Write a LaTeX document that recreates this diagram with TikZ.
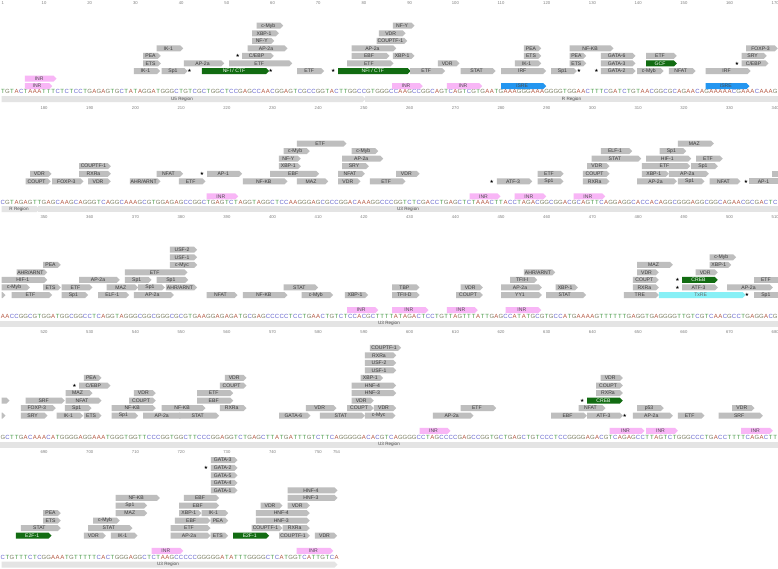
\documentclass[tikz,border=0pt]{standalone}
\usepackage{fontspec}
\setmainfont{Liberation Sans}
\newfontfamily\dvs{DejaVu Sans}
\usetikzlibrary{shapes.symbols}
\definecolor{bA}{RGB}{180,86,64}
\definecolor{bC}{RGB}{100,100,205}
\definecolor{bG}{RGB}{125,128,100}
\definecolor{bT}{RGB}{72,155,72}
\definecolor{tagfill}{RGB}{190,190,190}
\definecolor{tfgreen}{RGB}{18,108,18}
\definecolor{inrpink}{RGB}{248,182,246}
\definecolor{isreblue}{RGB}{36,150,240}
\definecolor{txrecyan}{RGB}{135,240,246}
\definecolor{regfill}{RGB}{228,228,228}
\tikzset{
 tagbase/.style={signal, signal to=east, inner sep=0pt, outer sep=0pt, minimum height=6pt, font=\fontsize{5.1}{5.1}\selectfont, text=black!78},
 tg/.style={tagbase, fill=tagfill},
 tgcut/.style={rectangle, inner sep=0pt, outer sep=0pt, minimum height=6pt, fill=tagfill, font=\fontsize{5.1}{5.1}\selectfont, text=black!78},
 grn/.style={tagbase, fill=tfgreen, text=white},
 inr/.style={tagbase, fill=inrpink, text=black!70},
 isre/.style={tagbase, fill=isreblue, text=black!70},
 txre/.style={tagbase, fill=txrecyan, text=black!60},
 base/.style={inner sep=0pt, font=\fontsize{6}{6}\selectfont},
 ruler/.style={inner sep=0pt, font=\fontsize{4.2}{4.2}\selectfont, text=black!50},
 region/.style={signal, signal to=east, inner sep=0pt, minimum height=6pt, fill=regfill, font=\fontsize{4.6}{4.6}\selectfont, text=black!70},
 regcut/.style={rectangle, inner sep=0pt, minimum height=6pt, fill=regfill, font=\fontsize{4.6}{4.6}\selectfont, text=black!70},
 starm/.style={inner sep=0pt, font=\dvs\fontsize{4.8}{4.8}\selectfont},
}
\newcount\tagc
\newcount\seqc
\newcommand\placetag[5]{\node[#1,minimum width={(#3)-(#2)}] (t\the\tagc) at ({((#2)+(#3))/2},{\Lone-((#4)-1)*7.55}) {#5};\global\advance\tagc by 1\relax}
\newcommand\tgA[4]{\placetag{tg}{#1}{#2}{#3}{#4}}
\newcommand\tgC[4]{\placetag{tgcut}{#1}{#2}{#3}{#4}}
\newcommand\tgG[4]{\placetag{grn}{#1}{#2}{#3}{#4}}
\newcommand\tgX[4]{\placetag{txre}{#1}{#2}{#3}{#4}}
\newcommand\tgI[3]{\placetag{inr}{#1}{#2}{-1}{#3}}
\newcommand\tgU[3]{\placetag{inr}{#1}{#2}{0}{#3}}
\newcommand\tgB[3]{\placetag{isre}{#1}{#2}{-1}{#3}}
\newcommand\tgS[2]{\node[starm] (t\the\tagc) at (#1,{\Lone-((#2)-1)*7.55}) {★};\global\advance\tagc by 1\relax}
\newcommand\seqrow[3]{\def\seqid{#1}\def\seqy{#2}\global\seqc=0 \seqloop#3\relax}
\def\seqloop#1{\ifx#1\relax\let\seqnext\relax\else\def\seqnext{\seqput#1\seqloop}\fi\seqnext}
\def\seqput#1{\node[base,text=b#1] (s\seqid-\the\seqc) at ({2.9+4.57*\the\seqc},\seqy) {#1};\global\advance\seqc by 1\relax}
\begin{document}
\begin{tikzpicture}[x=1pt,y=-1pt]
\useasboundingbox (0,0) rectangle (778,568);
\fill[white] (0,0) rectangle (778,568);
% rulers
\node[ruler] (r1) at (2.9,3) {1};
\foreach \n in {10,20,...,170} \node[ruler] (r\n) at ({2.9+(\n-1)*4.57},3) {\n};
\foreach \n in {180,190,...,340} \node[ruler] (r\n) at ({2.9+(\n-171)*4.57},107.7) {\n};
\foreach \n in {350,360,...,510} \node[ruler] (r\n) at ({2.9+(\n-341)*4.57},217) {\n};
\foreach \n in {520,530,...,680} \node[ruler] (r\n) at ({2.9+(\n-511)*4.57},332) {\n};
\foreach \n in {690,700,...,750} \node[ruler] (r\n) at ({2.9+(\n-681)*4.57},451.7) {\n};
\node[ruler] (r754) at ({2.9+73*4.57},451.7) {754};
% regions
\node[region, minimum width=364] (u5) at (182,99) {U5 Region};
\node[regcut, minimum width=413] (ra) at (571.5,99) {R Region};
\node[region, minimum width=38] (rb) at (19,209) {R Region};
\node[regcut, minimum width=740] (ua) at (408,209) {U3 Region};
\node[regcut, minimum width=778] (ub) at (389,323.7) {U3 Region};
\node[regcut, minimum width=778] (uc) at (389,444.5) {U3 Region};
\node[region, minimum width=336] (ud) at (168,564.7) {U3 Region};
% sequences
\seqrow{a}{91.5}{TGTACTAAATTTCTCTCCTGAGAGTGCTATAGGATGGGCTGTCGCTGGCTCCGAGCCAACGGAGTCGCCGGTACTTGGCCGTGGGCCAAGCCGGCAGTCAGTCGTGAATGAAAGGGAAAGGGGTGGAACTTTCGATCTGTAACGGCGCAGAACAGAAAAACGAAACAAAG}
\seqrow{b}{202}{CGTAGAGTTGAGCAAGCAGGGTCAGGCAAAGCGTGGAGAGCCGGCTGAGTCTAGGTAGGCTCCAAGGGAGCGCCGGACAAAGGCCCGGTCTCGACCTGAGCTCTAAACTTACCTAGACGGCGGACGCAGTTCAGGAGGCACCACAGGCGGGAGGCGGCAGAACGCGACTC}
\seqrow{c}{316.7}{AACCGGCGTGGATGGCGGCCTCAGGTAGGGCGGCGGGCGCGTGAAGGAGAGATGCGAGCCCCCTCCTGAACTGTCTCCACGCTTTTATAGACTCCTGTTAGTTTATTGAGCCATATGCGTGCCATGAAAAGTTTTTTGAGGTGAGGGGTTGTCGTCAACGCCTGAGGACG}
\seqrow{d}{437.5}{GCTTGACAAACATGGGGAGGAAATGGGTGGTTCCCGGTGGCTTCCCGGAGGTCTGAGCTTATGATTTGTCTTCAGGGGGACACGTCAGGGGCCTAGCCCCGAGCCGGTGCTGAGCTGTCCCTCCGGGGAGACGTCAGAGCCTTAGTCTGGGCCCTGACCTTTTCAGACTT}
\seqrow{e}{557.7}{CTGTTTCTCGGAAATGTTTTTCACTGGGAGGCTCTAAGCCCCCGGGGGATATTTGGGGCTCATGGTCATTGTCA}
% ---------- Row 1
\def\Lone{71}
\tgU{23.3}{55}{INR}
\tgI{23.3}{50.7}{INR}
\tgA{132.3}{158.7}{1}{IK-1}
\tgA{141.7}{159.3}{2}{ETS}
\tgA{141.7}{159.3}{3}{PEA}
\tgA{155}{181.7}{4}{IK-1}
\tgA{160}{186}{1}{Sp1}
\tgS{189.5}{1}
\tgA{182.3}{222.7}{2}{AP-2a}
\tgG{200.3}{267.7}{1}{NFI / CTF}
\tgS{270.7}{1}
\tgA{227.7}{290.7}{2}{ETF}
\tgS{237.8}{3}
\tgA{240.7}{272.3}{3}{C/EBP}
\tgA{246}{286}{4}{AP-2a}
\tgA{250.7}{272.7}{5}{NF-Y}
\tgA{250.7}{277.3}{6}{XBP-1}
\tgA{255}{281.7}{7}{c-Myb}
\tgA{295.7}{322.7}{1}{ETF}
\tgS{333.3}{1}
\tgG{336.7}{409}{1}{NFI / CTF}
\tgA{345.7}{392}{2}{ETF}
\tgA{350}{388}{3}{EBF}
\tgA{391.3}{413}{3}{XBP-1}
\tgA{350}{394.7}{4}{AP-2a}
\tgA{375}{405.7}{5}{COUPTF-1}
\tgA{377.3}{404}{6}{VDR}
\tgA{391.3}{413}{7}{NF-Y}
\tgA{408.7}{443.7}{1}{ETF}
\tgA{436.3}{458}{2}{VDR}
\tgA{459}{494}{1}{STAT}
\tgA{499.7}{544.7}{1}{IRF}
\tgA{513.3}{539.7}{2}{IK-1}
\tgA{522.3}{539.7}{3}{ETS}
\tgA{522.3}{539.7}{4}{PEA}
\tgB{499.7}{544.7}{iSRE}
\tgI{390.7}{421.3}{INR}
\tgI{445.3}{480.7}{INR}
\tgA{549.7}{575.3}{1}{Sp1}
\tgS{579}{1}
\tgA{568}{612}{4}{NF-KB}
\tgA{568}{584.7}{3}{PEA}
\tgA{568}{584.7}{2}{ETS}
\tgS{596.5}{1}
\tgA{599.3}{634}{1}{GATA-2}
\tgA{599.3}{634}{2}{GATA-3}
\tgA{599.3}{634}{3}{GATA-6}
\tgA{635.7}{662}{1}{c-Myb}
\tgA{644.7}{675.3}{3}{ETF}
\tgG{644.7}{675.3}{2}{GCF}
\tgA{667.3}{694}{1}{NFAT}
\tgA{704}{749}{1}{IRF}
\tgB{704}{748}{iSRE}
\tgS{737}{2}
\tgA{740}{767}{2}{C/EBP}
\tgA{740}{765.3}{3}{SRY}
\tgA{744.7}{776.3}{4}{FOXP-3}
% ---------- Row 2
\def\Lone{181.3}
\tgA{24}{49.3}{1}{COUPT}
\tgA{28.7}{50}{2}{VDR}
\tgA{50.7}{82}{1}{FOXP-3}
\tgA{77.7}{109.3}{2}{RXRa}
\tgA{77.7}{109.3}{3}{COUPTF-1}
\tgA{86.7}{109.3}{1}{VDR}
\tgA{128.3}{159}{1}{AHR/ARNT}
\tgA{155}{181.7}{2}{NFAT}
\tgA{177.3}{204}{1}{ETF}
\tgS{202}{2}
\tgA{205.7}{240.7}{2}{AP-1}
\tgI{205}{236.7}{INR}
\tgA{241.3}{286}{1}{NF-KB}
\tgA{268.7}{317.7}{2}{EBF}
\tgA{277.3}{299.3}{3}{XBP-1}
\tgA{277.3}{299.3}{4}{NF-Y}
\tgA{282}{308.3}{5}{c-Myb}
\tgA{295.3}{345}{6}{ETF}
\tgA{295.3}{326.7}{1}{MAZ}
\tgA{336.7}{359}{1}{VDR}
\tgA{336.7}{363.3}{2}{NFAT}
\tgA{340.7}{367.3}{3}{SRY}
\tgA{340.7}{381.7}{4}{AP-2a}
\tgA{350}{376.7}{5}{c-Myb}
\tgA{368.3}{404}{1}{ETF}
\tgA{394.7}{418}{2}{VDR}
\tgS{491.7}{1}
\tgA{495.3}{530.7}{1}{ATF-3}
\tgI{468}{499}{INR}
\tgI{513}{544.7}{INR}
\tgI{572}{603.7}{INR}
\tgA{536}{562}{2}{ETF}
\tgA{536}{562}{1}{Sp1}
\tgA{581.3}{608}{1}{RXRa}
\tgA{581.3}{608}{2}{COUPT}
\tgA{585.7}{608}{3}{VDR}
\tgA{590}{639.7}{4}{STAT}
\tgA{599.3}{630.7}{5}{ELF-1}
\tgA{635.7}{675.3}{1}{AP-2a}
\tgA{640.3}{667.3}{2}{XBP-1}
\tgA{640.3}{688.7}{3}{ETF}
\tgA{644.7}{689.7}{4}{HIF-1}
\tgA{667.3}{707.3}{2}{AP-2a}
\tgA{676.3}{703}{1}{Sp1}
\tgA{689.7}{716.3}{3}{Sp1}
\tgA{658}{684.7}{5}{Sp1}
\tgA{694.7}{721.3}{4}{ETF}
\tgA{676.3}{712.3}{6}{MAZ}
\tgA{708}{739}{1}{NFAT}
\tgS{746}{1}
\tgC{749}{778}{1}{AP-1}
\tgC{772.3}{778}{2}{}
% ---------- Row 3
\def\Lone{295}
\tgA{0}{4}{1}{}
\tgA{10}{50.7}{1}{ETF}
\tgA{0}{28.3}{2}{c-Myb}
\tgA{0}{45.7}{3}{HIF-1}
\tgA{15}{45.7}{4}{AHR/ARNT}
\tgA{41.7}{59.3}{5}{PEA}
\tgA{41.7}{59.3}{2}{ETS}
\tgA{60}{86.7}{1}{Sp1}
\tgA{60}{91}{2}{ETF}
\tgA{77.7}{118.3}{3}{AP-2a}
\tgA{105}{136.7}{2}{MAZ}
\tgA{96.7}{127.7}{1}{ELF-1}
\tgA{123.3}{186}{4}{ETF}
\tgA{123.3}{150}{3}{Sp1}
\tgA{136.7}{163.3}{2}{Sp1}
\tgA{132.3}{172.3}{1}{AP-2a}
\tgA{155}{186.7}{3}{Sp1}
\tgA{164.3}{195.7}{2}{AHR/ARNT}
\tgA{168.3}{195.7}{5}{c-Myc}
\tgA{168.3}{195.7}{6}{USF-1}
\tgA{168.3}{195.7}{7}{USF-2}
\tgA{205}{236}{1}{NFAT}
\tgA{241.3}{286}{1}{NF-KB}
\tgA{282}{316.7}{2}{STAT}
\tgA{300}{331.7}{1}{c-Myb}
\tgA{343.3}{366.7}{1}{XBP-1}
\tgI{345.7}{376.7}{INR}
\tgA{390.7}{418}{2}{TBP}
\tgA{390.7}{418}{1}{TFII-D}
\tgA{459}{481.3}{2}{VDR}
\tgA{454.7}{481.3}{1}{COUPT}
\tgA{499.7}{540.3}{2}{AP-2a}
\tgA{499.7}{540.3}{1}{YY1}
\tgA{508.7}{535.7}{3}{TFII-I}
\tgA{522.3}{553.7}{4}{AHR/ARNT}
\tgA{554}{576.3}{2}{XBP-1}
\tgA{544.7}{584.7}{1}{STAT}
\tgI{390.7}{427}{INR}
\tgI{445.3}{476.3}{INR}
\tgI{504}{539.7}{INR}
\tgA{622.3}{657.3}{1}{TRE}
\tgA{631.3}{657.3}{2}{RXRa}
\tgA{631.3}{657.3}{3}{COUPT}
\tgA{635.7}{657.3}{4}{VDR}
\tgA{635.7}{671.3}{5}{MAZ}
\tgX{657.3}{744}{1}{TxRE}
\tgS{747}{1}
\tgS{677.5}{2}
\tgA{680.7}{716.3}{2}{ATF-3}
\tgS{677.5}{3}
\tgG{680.7}{716.3}{3}{CREB}
\tgA{694}{716.3}{4}{VDR}
\tgA{708}{729.7}{5}{XBP-1}
\tgA{708}{734.7}{6}{c-Myb}
\tgA{725.7}{771.3}{2}{AP-2a}
\tgC{753.7}{778}{1}{Sp1}
\tgC{753.7}{778}{3}{ETF}
% ---------- Row 4
\def\Lone{415.7}
\tgA{0}{8}{3}{}
\tgA{0}{4}{1}{}
\tgA{19.3}{46}{1}{SRY}
\tgA{19.3}{54.3}{2}{FOXP-3}
\tgA{24}{63.3}{3}{SRF}
\tgA{55}{81.7}{1}{IK-1}
\tgA{63.3}{90}{2}{Sp1}
\tgA{64}{100}{3}{NFAT}
\tgA{64}{91}{4}{MAZ}
\tgS{74.5}{5}
\tgA{77.7}{109}{5}{C/EBP}
\tgA{82.3}{100}{6}{PEA}
\tgA{82.3}{100}{1}{ETS}
\tgA{110}{136.7}{1}{Sp1}
\tgA{110}{154.3}{2}{NF-KB}
\tgA{127.7}{154.3}{3}{COUPT}
\tgA{132.3}{154.3}{4}{VDR}
\tgA{141.7}{181.7}{1}{AP-2a}
\tgA{160}{204}{2}{NF-KB}
\tgA{177.7}{217.7}{1}{STAT}
\tgA{195.7}{231.7}{3}{EBF}
\tgA{195.7}{231.7}{4}{ETF}
\tgA{218.3}{245}{2}{RXRa}
\tgA{218.3}{245}{5}{COUPT}
\tgA{223.3}{245}{6}{VDR}
\tgA{277.7}{309}{1}{GATA-6}
\tgA{304.3}{335}{2}{VDR}
\tgA{318.3}{363.3}{1}{STAT}
\tgA{363.3}{394}{1}{c-Myc}
\tgA{345.7}{372.3}{2}{COUPT}
\tgA{372.3}{394.7}{2}{VDR}
\tgA{350}{372.3}{3}{VDR}
\tgA{350}{394.7}{4}{HNF-3}
\tgA{350}{394.7}{5}{HNF-4}
\tgA{359}{381.7}{6}{XBP-1}
\tgA{363.3}{394.7}{7}{USF-1}
\tgA{363.3}{394.7}{8}{USF-2}
\tgA{363.3}{394.7}{9}{RXRa}
\tgA{368.3}{399.7}{10}{COUPTF-1}
\tgA{431.3}{472}{1}{AP-2a}
\tgA{459}{494.7}{2}{ETF}
\tgA{549.7}{585.3}{1}{EBF}
\tgA{577}{604}{2}{NFAT}
\tgA{585.7}{621.3}{1}{ATF-3}
\tgS{624.7}{1}
\tgS{582.2}{3}
\tgG{585.7}{621.3}{3}{CREB}
\tgA{594.7}{621.3}{4}{RXRa}
\tgA{594.7}{621.3}{5}{COUPT}
\tgA{599}{621.3}{6}{VDR}
\tgA{635.7}{662.3}{2}{p53}
\tgA{631.3}{671.3}{1}{AP-2a}
\tgA{676.3}{703}{1}{ETF}
\tgA{717}{761.3}{1}{SRF}
\tgA{730.7}{753}{2}{VDR}
\tgI{418}{449}{INR}
\tgI{608}{643}{INR}
\tgI{644.7}{676.3}{INR}
\tgI{739.7}{771.3}{INR}
% ---------- Row 5
\def\Lone{535.7}
\tgG{14.3}{50}{1}{E2F-1}
\tgA{19.3}{59.3}{2}{STAT}
\tgA{41.7}{59.3}{3}{ETS}
\tgA{41.7}{59.3}{4}{PEA}
\tgA{82.3}{104.3}{1}{VDR}
\tgA{109.3}{136}{1}{IK-1}
\tgA{86.7}{131}{2}{STAT}
\tgA{91.7}{118.3}{3}{c-Myb}
\tgA{114}{145.7}{4}{MAZ}
\tgA{114}{145.7}{5}{Sp1}
\tgA{114}{158.3}{6}{NF-KB}
\tgA{169}{209}{1}{AP-2a}
\tgA{209}{226.7}{1}{ETS}
\tgA{169}{209}{2}{ETF}
\tgA{173.3}{209}{3}{EBF}
\tgA{209}{226.7}{3}{PEA}
\tgA{177.7}{200}{4}{XBP-1}
\tgA{200}{226.7}{4}{IK-1}
\tgA{177.7}{217.7}{5}{EBF}
\tgA{182.3}{217.7}{6}{EBF}
\tgA{209.3}{236}{7}{GATA-1}
\tgA{209.3}{236}{8}{GATA-4}
\tgA{209.3}{236}{9}{GATA-5}
\tgS{206}{10}
\tgA{209.3}{236}{10}{GATA-2}
\tgA{209.3}{236}{11}{GATA-3}
\tgG{231.7}{267.7}{1}{E2F-1}
\tgA{250}{281}{2}{COUPTF-1}
\tgA{254.3}{308.3}{3}{HNF-3}
\tgA{254.3}{308.3}{4}{HNF-4}
\tgA{259}{281}{5}{VDR}
\tgA{281}{308.3}{2}{RXRa}
\tgA{277.7}{308.3}{1}{COUPTF-1}
\tgA{313.3}{335.7}{1}{VDR}
\tgA{286}{308.3}{5}{VDR}
\tgA{286}{336}{6}{HNF-3}
\tgA{286}{336}{7}{HNF-4}
\tgI{150}{181.7}{INR}
\tgI{295}{331.7}{INR}
\end{tikzpicture}
\end{document}
